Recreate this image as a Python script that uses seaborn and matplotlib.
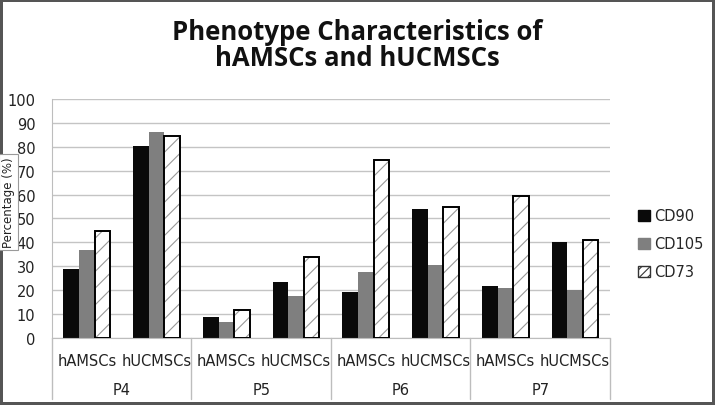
import matplotlib
matplotlib.use("Agg")
import matplotlib.pyplot as plt
import matplotlib.transforms as mtransforms
from matplotlib.patches import Patch, Rectangle
import pandas as pd
import seaborn as sns

# values (%)
passages = ["P4", "P5", "P6", "P7"]
cell_types = ["hAMSCs", "hUCMSCs"]
markers = ["CD90", "CD105", "CD73"]
cd90 = [29.0, 80.3, 8.6, 23.3, 19.2, 53.8, 21.7, 40.0]
cd105 = [36.8, 86.3, 6.8, 17.6, 27.7, 30.5, 20.8, 20.0]
cd73 = [44.6, 84.3, 11.6, 34.0, 74.4, 54.7, 59.3, 41.1]
colors = ["#0a0a0a", "#7f7f7f", "#ffffff"]

slots = [p + " " + c for p in passages for c in cell_types]
rows = []
for name, vals in zip(markers, [cd90, cd105, cd73]):
    for s, v in zip(slots, vals):
        rows.append({"slot": s, "marker": name, "value": v})
df = pd.DataFrame(rows)

sns.set_style("white")
plt.rcParams["font.family"] = ["DejaVu Sans"]
plt.rcParams["hatch.linewidth"] = 0.8

fig = plt.figure(figsize=(7.15, 4.06), dpi=100)
ax = fig.add_axes([0.0727, 0.165, 0.7804, 0.589])

sns.barplot(data=df, x="slot", y="value", hue="marker", order=slots,
            hue_order=markers, palette=colors, width=0.67, gap=0,
            saturation=1, ax=ax, legend=False)

# hatched CD73 bars with a black outline
for p in ax.containers[2]:
    p.set_hatch("//")
    p.set_edgecolor("#9a9a9a")
    p.set_linewidth(0)
    ax.add_patch(Rectangle(p.get_xy(), p.get_width(), p.get_height(),
                           fill=False, edgecolor="black", lw=1.4, zorder=3))
for c in ax.containers[:2]:
    for p in c:
        p.set_linewidth(0)

ax.set_ylim(0, 100)
ax.set_xlim(-0.5, 7.5)
ax.set_yticks(range(0, 101, 10))
ax.yaxis.grid(True, color="#c4c4c4", lw=1)
ax.set_axisbelow(True)
ax.tick_params(axis="y", length=0, pad=12, labelsize=10.5, colors="#222222")
ax.set_xticks(range(8))
ax.set_xticklabels(cell_types * 4)
ax.tick_params(axis="x", length=0, pad=11, labelsize=10.5, colors="#222222")
ax.set_xlabel("")
ax.set_ylabel("")
for side in ["top", "right"]:
    ax.spines[side].set_visible(False)
ax.spines["left"].set_color("#bdbdbd")
ax.spines["bottom"].set_color("#bdbdbd")

# two-level category axis
trans = mtransforms.blended_transform_factory(ax.transData, ax.transAxes)
for i, p in enumerate(passages):
    ax.text(2 * i + 0.5, -0.215, p, transform=trans, ha="center", va="center",
            fontsize=10.5, color="#222222")
for xb in [-0.5, 1.5, 3.5, 5.5, 7.5]:
    ax.plot([xb, xb], [0, -0.255], transform=trans, color="#bdbdbd", lw=1,
            clip_on=False)

# y label in a small box
fig.text(0.012, 0.50, "Percentage (%)", rotation=90, ha="center", va="center",
         fontsize=8.5, color="#222222",
         bbox=dict(boxstyle="square,pad=0.25", fc="white", ec="#9a9a9a", lw=0.8))

fig.text(0.50, 0.888, "Phenotype Characteristics of\nhAMSCs and hUCMSCs",
         ha="center", va="center", fontsize=18.5, fontweight="bold",
         family=["Open Sans", "DejaVu Sans"], linespacing=0.98, color="#111111")

handles = [Patch(facecolor=colors[0], edgecolor=colors[0]),
           Patch(facecolor=colors[1], edgecolor=colors[1]),
           Patch(facecolor="white", edgecolor="#333333", hatch="////")]
fig.legend(handles, markers, loc="center left", bbox_to_anchor=(0.882, 0.397),
           frameon=False, fontsize=10.5, handlelength=0.8, handleheight=0.8,
           handletextpad=0.3, labelspacing=0.9, borderpad=0)

fig.patch.set_edgecolor("#555555")
fig.patch.set_linewidth(3)
fig.savefig("out.png", dpi=100)
